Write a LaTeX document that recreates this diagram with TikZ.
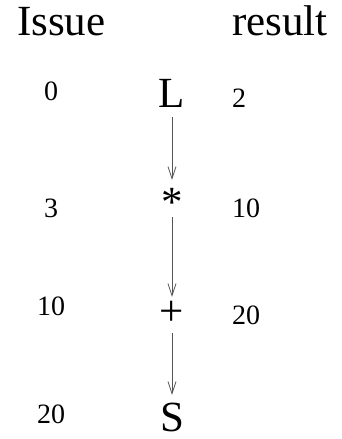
\documentclass[tikz,border=0pt]{standalone}
\usepackage{fontspec}
\setmainfont{Liberation Serif}
\usetikzlibrary{arrows.meta}
\definecolor{wire}{HTML}{555555}

\begin{document}
\begin{tikzpicture}[
  x=1pt, y=-1pt,
  hdr/.style={inner sep=0pt, anchor=base west, font=\fontsize{43}{50}\selectfont},
  op/.style={inner sep=0pt, anchor=base, text height=28pt, text depth=0pt, font=\fontsize{43}{50}\selectfont},
  num/.style={inner sep=0pt, anchor=base, font=\fontsize{28}{32}\selectfont},
  res/.style={num, anchor=base west},
  arr/.style={-{Straight Barb[length=12pt, width=8pt]}, wire, line width=0.8pt}
]
\useasboundingbox (0,0) rectangle (342,439);

\node[hdr] (issue) at (17,35) {Issue};
\node[hdr] (result) at (232,35) {result};

% issue times
\node[num] (i0) at (51,100) {0};
\node[num] (i1) at (51,217) {3};
\node[num] (i2) at (51,315) {10};
\node[num] (i3) at (51,423) {20};

% operations
\node[op] (load) at (172,107) {L};
\node[op] (mul) at (172,216) {*};
\node[op] (add) at (172,325) {+};
\node[op] (store) at (172,431) {S};

% result times
\node[res] (r0) at (232,107) {2};
\node[res] (r1) at (232,217) {10};
\node[res] (r2) at (232,324) {20};

\draw[arr, shorten <=10pt, shorten >=8pt] (load.south) -- (mul.north);
\draw[arr, shorten <=1pt] (mul.south) -- (add.north);
\draw[arr, shorten <=8pt, shorten >=8pt] (add.south) -- (store.north);
\end{tikzpicture}
\end{document}
